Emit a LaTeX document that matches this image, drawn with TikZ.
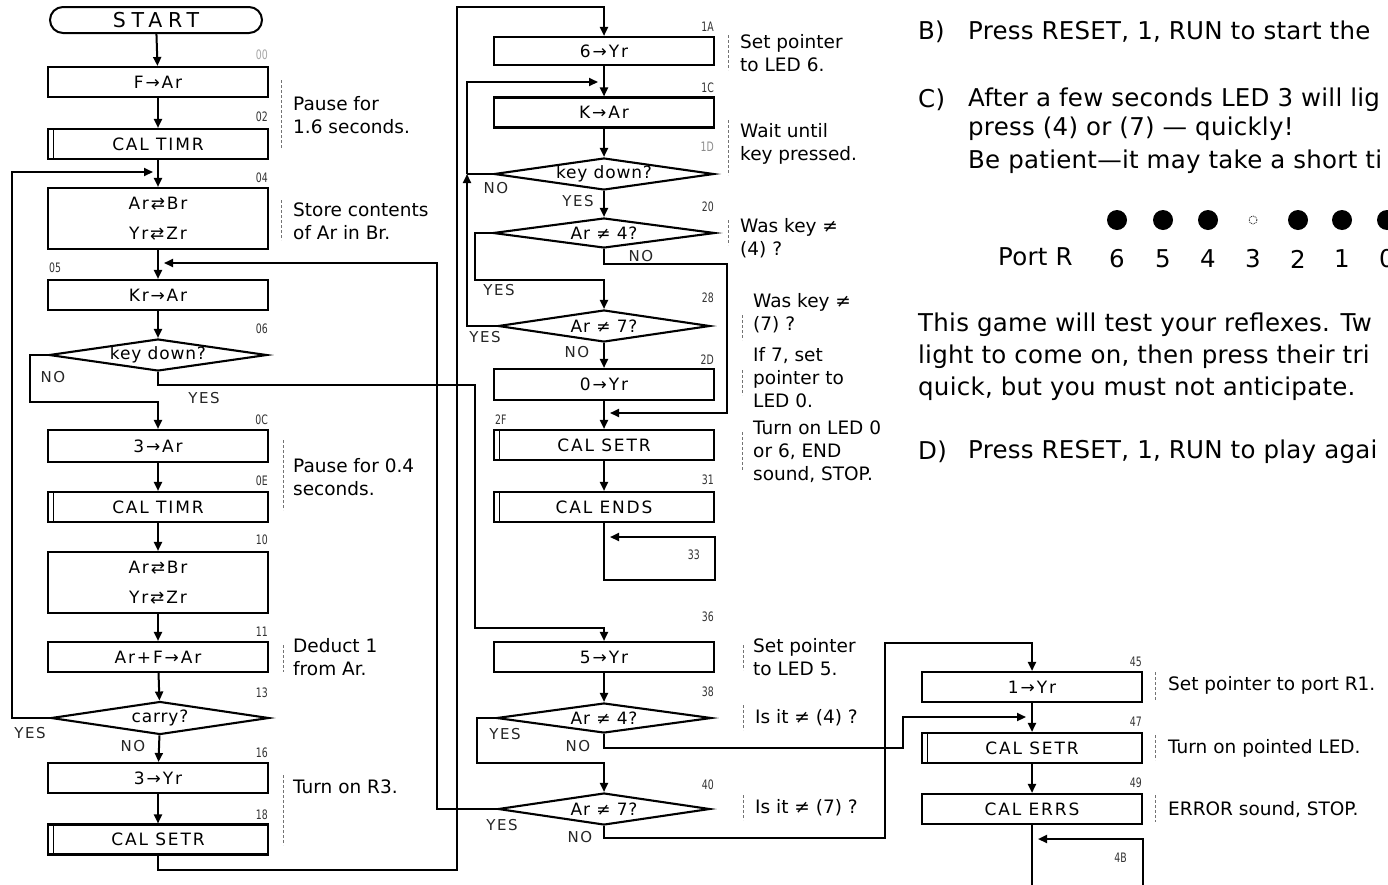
\documentclass[tikz,border=0pt]{standalone}
\usepackage{fontspec}
\setmainfont{DejaVu Sans}
\usetikzlibrary{arrows.meta,shapes.geometric,shapes.misc}
\newcommand\nrw[1]{\scalebox{0.72}[1]{#1}}
\begin{document}
\begin{tikzpicture}[x=1pt,y=-1pt,
 every node/.style={inner sep=0pt},
 conn/.style={line width=2pt},
 arr/.style={line width=2pt,-{Triangle[length=9pt,width=8pt]}},
 box/.style={draw,line width=2.1pt,fill=white,minimum width=220pt,minimum height=30pt,align=center,
   font=\fontsize{17}{30}\selectfont\addfontfeature{LetterSpace=11}},
 sub/.style={box,path picture={\draw[line width=1.4pt]
   ([xshift=5.5pt]path picture bounding box.north west) -- ([xshift=5.5pt]path picture bounding box.south west);}},
 term/.style={shape=rounded rectangle,draw,line width=2pt,minimum width=212pt,minimum height=26pt,
   font=\fontsize{20.5}{20}\selectfont\addfontfeature{LetterSpace=28}},
 dia/.style={shape=diamond,draw,line width=2.1pt,fill=white,minimum width=218pt,minimum height=32pt},
 dtxt/.style={font=\fontsize{17}{17}\selectfont\addfontfeature{LetterSpace=5}},
 lbl/.style={font=\fontsize{13}{13}\selectfont,text=black!80},
 lblr/.style={lbl,anchor=east},
 cmt/.style={anchor=west,align=left,font=\fontsize{18.5}{23}\selectfont},
 yn/.style={font=\fontsize{15}{15}\selectfont\addfontfeature{LetterSpace=10},text=black!85},
 brk/.style={line width=0.6pt,dash pattern=on 3pt off 2pt,black!55},
 big/.style={anchor=west,font=\fontsize{24.5}{28}\selectfont\addfontfeature{LetterSpace=1}},
]
\useasboundingbox (0,0) rectangle (1388,884);
\fill[white] (0,0) rectangle (1388,884);
\clip (0,0) rectangle (1388,884);

% ---------------- left column ----------------
\node[term] (start) at (156,20) {START};
\node[box] (b1) at (158,82) {F→Ar};
\node[sub] (b2) at (158,144) {CAL TIMR};
\node[box,minimum height=61pt] (b3) at (158,218.5) {Ar⇄Br\\Yr⇄Zr};
\node[box] (b4) at (158,295) {Kr→Ar};
\node[dia,label={[dtxt]center:key down?}] (d1) at (158,355) {};
\node[box,minimum height=32pt] (b5) at (158,446) {3→Ar};
\node[sub] (b6) at (158,507) {CAL TIMR};
\node[box,minimum height=61pt] (b7) at (158,582.5) {Ar⇄Br\\Yr⇄Zr};
\node[box] (b8) at (158,657) {Ar+F→Ar};
\node[dia,minimum height=33pt,label={[dtxt]center:carry?}] (d2) at (160,718) {};
\node[box] (b9) at (158,778) {3→Yr};
\node[sub] (b10) at (158,839.5) {CAL SETR};

\node[lblr,text=black!35] (l00) at (268,55) {\nrw{00}};
\node[lblr] (l02) at (268,117) {\nrw{02}};
\node[lblr] (l04) at (268,178) {\nrw{04}};
\node[lbl,anchor=west] (l05) at (49,268) {\nrw{05}};
\node[lblr] (l06) at (268,329) {\nrw{06}};
\node[lblr] (l0C) at (268,420) {\nrw{0C}};
\node[lblr] (l0E) at (268,481) {\nrw{0E}};
\node[lblr] (l10) at (268,540) {\nrw{10}};
\node[lblr] (l11) at (268,632) {\nrw{11}};
\node[lblr] (l13) at (268,693) {\nrw{13}};
\node[lblr] (l16) at (268,753) {\nrw{16}};
\node[lblr] (l18) at (268,815) {\nrw{18}};

\node[yn] (n1) at (53,377) {NO};
\node[yn] (y1) at (204,398) {YES};
\node[yn] (y2) at (30,733) {YES};
\node[yn] (n2) at (133,746) {NO};

\node[cmt] (c1) at (293,115) {Pause for\\1.6 seconds.};
\node[cmt] (c2) at (293,221) {Store contents\\of Ar in Br.};
\node[cmt] (c3) at (293,477) {Pause for 0.4\\seconds.};
\node[cmt] (c4) at (293,657) {Deduct 1\\from Ar.};
\node[cmt] (c5) at (293,787) {Turn on R3.};
\draw[brk] (281,80) -- (281,148);
\draw[brk] (281,200) -- (281,240);
\draw[brk] (283,440) -- (283,510);
\draw[brk] (283,645) -- (283,672);
\draw[brk] (283,775) -- (283,845);

% junction coordinates
\coordinate (j1) at (153,172);
\coordinate (j2) at (164,263);
\coordinate (j3) at (598,82);
\coordinate (c1a) at (467,174);
\coordinate (j4) at (610,413);
\coordinate (j5) at (610,537);
\coordinate (j6) at (1026,717);
\coordinate (j7) at (1038,839);
\coordinate (e1) at (1032,900);
\coordinate (e2) at (1143,900);

\draw[arr] (start) -- (b1);
\draw[arr] (b1) -- (b2);
\draw[arr] (b2) -- (b3);
\draw[arr] (b3) -- (b4);
\draw[arr] (b4) -- (d1);
\draw[arr] (d1.west) -| (30,402) -| (b5.north);
\draw[arr] (b5) -- (b6);
\draw[arr] (b6) -- (b7);
\draw[arr] (b7) -- (b8);
\draw[arr] (b8) -- (d2);
\draw[arr] (d2.west) -| (12,172) -- (j1);
\draw[arr] (d2) -- (b9);
\draw[arr] (b9) -- (b10);

% ---------------- middle column ----------------
\node[box,minimum height=28pt] (m1) at (604,51) {6→Yr};
\node[box] (m2) at (604,112.5) {K→Ar};
\node[dia,minimum width=220pt,label={[dtxt]center:key down?}] (md1) at (604,174) {};
\node[dia,minimum width=222pt,minimum height=30pt,label={[dtxt]center:Ar ≠ 4?}] (md2) at (604,233) {};
\node[dia,minimum width=212pt,label={[dtxt]center:Ar ≠ 7?}] (md3) at (604,326) {};
\node[box,minimum height=31pt] (m3) at (604,384.5) {0→Yr};
\node[sub] (m4) at (604,445) {CAL SETR};
\node[sub] (m5) at (604,507) {CAL ENDS};
\node[box] (m6) at (604,657) {5→Yr};
\node[dia,minimum width=215pt,minimum height=30pt,label={[dtxt]center:Ar ≠ 4?}] (md4) at (604,718) {};
\node[dia,minimum width=212pt,label={[dtxt]center:Ar ≠ 7?}] (md5) at (604,809) {};

\node[lblr] (l1A) at (714,27) {\nrw{1A}};
\node[lblr] (l1C) at (714,88) {\nrw{1C}};
\node[lblr,text=black!45] (l1D) at (714,147) {\nrw{1D}};
\node[lblr] (l20) at (714,207) {\nrw{20}};
\node[lblr] (l28) at (714,298) {\nrw{28}};
\node[lblr] (l2D) at (714,360) {\nrw{2D}};
\node[lbl,anchor=west] (l2F) at (495,420) {\nrw{2F}};
\node[lblr] (l31) at (714,480) {\nrw{31}};
\node[lblr] (l33) at (700,555) {\nrw{33}};
\node[lblr] (l36) at (714,617) {\nrw{36}};
\node[lblr] (l38) at (714,692) {\nrw{38}};
\node[lblr] (l40) at (714,785) {\nrw{40}};

\node[yn] (n3) at (496,188) {NO};
\node[yn] (y3) at (578,201) {YES};
\node[yn] (n4) at (641,256) {NO};
\node[yn] (y4) at (499,290) {YES};
\node[yn] (y5) at (485,337) {YES};
\node[yn] (n5) at (577,352) {NO};
\node[yn] (y6) at (505,734) {YES};
\node[yn] (n6) at (578,746) {NO};
\node[yn] (y7) at (502,825) {YES};
\node[yn] (n7) at (580,837) {NO};

\node[cmt] (c6) at (740,53) {Set pointer\\to LED 6.};
\node[cmt] (c7) at (740,144) {Wait until\\key pressed.};
\node[cmt] (c8) at (740,238) {Was key ≠\\(4) ?};
\node[cmt] (c9) at (753,313) {Was key ≠\\(7) ?};
\node[cmt] (c10) at (753,378) {If 7, set\\pointer to\\LED 0.};
\node[cmt] (c11) at (753,452) {Turn on LED 0\\or 6, END\\sound, STOP.};
\node[cmt] (c12) at (753,657) {Set pointer\\to LED 5.};
\node[cmt] (c13) at (755,718) {Is it ≠ (4) ?};
\node[cmt] (c14) at (755,808) {Is it ≠ (7) ?};
\draw[brk] (728,35) -- (728,70);
\draw[brk] (728,120) -- (728,175);
\draw[brk] (728,220) -- (728,245);
\draw[brk] (742,315) -- (742,340);
\draw[brk] (742,370) -- (742,395);
\draw[brk] (742,432) -- (742,470);
\draw[brk] (743,645) -- (743,670);
\draw[brk] (743,705) -- (743,730);
\draw[brk] (743,795) -- (743,820);

\draw[arr] (b10.south) |- (457,870) -- (457,7) -| (m1.north);
\draw[arr] (m1) -- (m2);
\draw[arr] (m2) -- (md1);
\draw[arr] (md1) -- (md2);
\draw[conn] (md1.west) -- (c1a);
\draw[arr] (md3.west) -| (c1a);
\draw[arr] (c1a) |- (j3);
\draw[arr] (md2.west) -| (475,280) -| (md3.north);
\draw[arr] (md2.south) |- (727,264) |- (j4);
\draw[arr] (md3) -- (m3);
\draw[arr] (m3) -- (m4);
\draw[arr] (m4) -- (m5);
\draw[arr] (m5.south) |- (715,580) |- (j5);
\draw[arr] (d1.south) |- (475,385) -- (475,628) -| (m6.north);
\draw[arr] (m6) -- (md4);
\draw[arr] (md4.west) -| (477,763) -| (md5.north);
\draw[arr] (md5.west) -| (437,263) -- (j2);

% ---------------- right column ----------------
\node[box] (r1) at (1032,687) {1→Yr};
\node[sub] (r2) at (1032,748) {CAL SETR};
\node[box] (r3) at (1032,809) {CAL ERRS};
\node[lblr] (l45) at (1142,662) {\nrw{45}};
\node[lblr] (l47) at (1142,722) {\nrw{47}};
\node[lblr] (l49) at (1142,783) {\nrw{49}};
\node[lblr] (l4B) at (1127,858) {\nrw{4B}};
\node[cmt] (c15) at (1168,685) {Set pointer to port R1.};
\node[cmt] (c16) at (1168,748) {Turn on pointed LED.};
\node[cmt] (c17) at (1168,810) {ERROR sound, STOP.};
\draw[brk] (1155,672) -- (1155,700);
\draw[brk] (1155,735) -- (1155,760);
\draw[brk] (1155,795) -- (1155,822);

\draw[arr] (md4.south) |- (903,748) |- (j6);
\draw[arr] (md5.south) |- (885,838) -- (885,643) -| (r1.north);
\draw[arr] (r1) -- (r2);
\draw[arr] (r2) -- (r3);
\draw[conn] (r3.south) -- (e1);
\draw[arr] (e2) |- (j7);

% ---------------- text at top right ----------------
\node[big] (tB) at (918,32) {B)};
\node[big] (tB1) at (968,32) {Press RESET, 1, RUN to start the};
\node[big] (tC) at (918,100) {C)};
\node[big] (tC1) at (968,100) {After a few seconds LED 3 will lig};
\node[big] (tC2) at (968,129) {press (4) or (7) — quickly!};
\node[big] (tC3) at (968,162) {Be patient—it may take a short ti};

\foreach \xx in {1117,1163,1208,1298,1342,1387} \fill (\xx,220) circle (10pt);
\draw[densely dotted,line width=0.8pt] (1253,220) circle (4pt);
\node[big] (port) at (998,257) {Port R};
\node[big,anchor=center] (p6) at (1117,259) {6};
\node[big,anchor=center] (p5) at (1163,259) {5};
\node[big,anchor=center] (p4) at (1208,259) {4};
\node[big,anchor=center] (p3) at (1253,259) {3};
\node[big,anchor=center] (p2) at (1298,259) {2};
\node[big,anchor=center] (p1) at (1342,259) {1};
\node[big,anchor=center] (p0) at (1387,259) {0};

\node[big] (tP1) at (918,325) {This game will test your reflexes. Tw};
\node[big] (tP2) at (918,357) {light to come on, then press their tri};
\node[big] (tP3) at (918,389) {quick, but you must not anticipate.};
\node[big] (tD) at (918,452) {D)};
\node[big] (tD1) at (968,452) {Press RESET, 1, RUN to play agai};
\end{tikzpicture}
\end{document}
